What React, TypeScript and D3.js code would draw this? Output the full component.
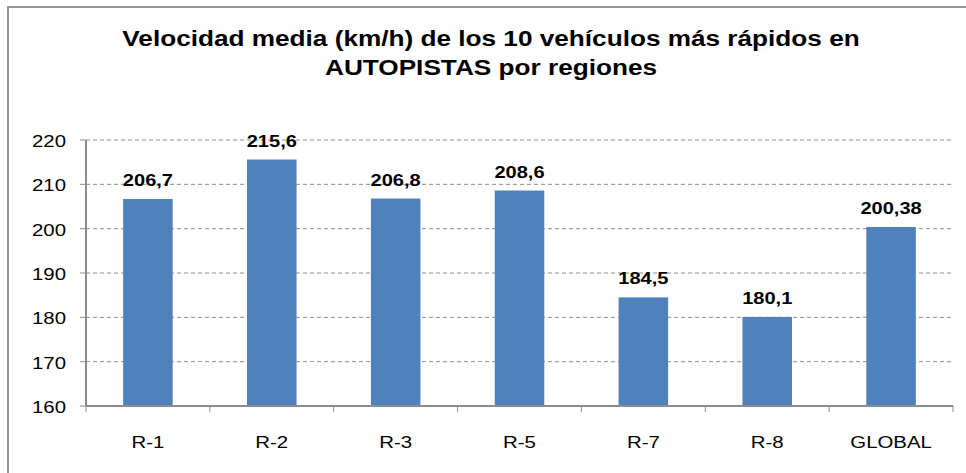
import React, { useEffect, useRef } from "react";
import * as d3 from "d3";

const regiones = ["R-1", "R-2", "R-3", "R-5", "R-7", "R-8", "GLOBAL"];
const velocidades = [206.7, 215.6, 206.8, 208.6, 184.5, 180.1, 200.38];
const etiquetas = ["206,7", "215,6", "206,8", "208,6", "184,5", "180,1", "200,38"];
const yTicks = [160, 170, 180, 190, 200, 210, 220];
const titulo = [
  "Velocidad media (km/h) de los 10 vehículos más rápidos en",
  "AUTOPISTAS por regiones",
];

const W = 966;
const H = 473;

export default function App() {
  const ref = useRef<SVGSVGElement>(null);

  useEffect(() => {
    const svg = d3.select(ref.current);
    svg.selectAll("*").remove();
    const font = "'Liberation Sans', Arial, sans-serif";

    // marco del grafico
    svg.append("rect")
      .attr("x", 8).attr("y", 7)
      .attr("width", W + 20).attr("height", H + 20)
      .attr("fill", "white")
      .attr("stroke", "#999999")
      .attr("stroke-width", 2);

    // titulo (la fuente original es algo mas ancha)
    svg.append("g").selectAll("text")
      .data(titulo)
      .join("text")
      .attr("transform", (d, i) => `translate(491,${46 + i * 29}) scale(1.19,1)`)
      .attr("text-anchor", "middle")
      .attr("font-family", font)
      .attr("font-weight", "bold")
      .attr("font-size", 22)
      .text(d => d);

    const x = d3.scaleBand().domain(regiones).range([86, 953]).paddingInner(0.6).paddingOuter(0.3);
    const y = d3.scaleLinear().domain([160, 220]).range([406, 140]);

    // rejilla
    svg.append("g").selectAll("line")
      .data(yTicks.filter(t => t > 160))
      .join("line")
      .attr("x1", 86).attr("x2", 953)
      .attr("y1", d => y(d)).attr("y2", d => y(d))
      .attr("stroke", "#8c8c8c")
      .attr("stroke-width", 1)
      .attr("stroke-dasharray", "4,3");

    svg.append("g").selectAll("rect")
      .data(velocidades)
      .join("rect")
      .attr("x", (d, i) => x(regiones[i])!)
      .attr("y", d => y(d))
      .attr("width", x.bandwidth())
      .attr("height", d => y(160) - y(d))
      .attr("fill", "#4f81bd");

    svg.append("g").selectAll("text")
      .data(velocidades)
      .join("text")
      .attr("transform", (d, i) =>
        `translate(${x(regiones[i])! + x.bandwidth() / 2},${y(d) - 13}) scale(1.18,1)`)
      .attr("text-anchor", "middle")
      .attr("font-family", font)
      .attr("font-weight", "bold")
      .attr("font-size", 17)
      .text((d, i) => etiquetas[i]);

    // eje y
    const axisColor = "#8c8c8c";
    svg.append("line")
      .attr("x1", 86).attr("x2", 86).attr("y1", 140).attr("y2", 406)
      .attr("stroke", axisColor).attr("stroke-width", 2);
    svg.append("g").selectAll("line")
      .data(yTicks)
      .join("line")
      .attr("x1", 80).attr("x2", 86)
      .attr("y1", d => y(d)).attr("y2", d => y(d))
      .attr("stroke", axisColor).attr("stroke-width", 1);
    svg.append("g").selectAll("text")
      .data(yTicks)
      .join("text")
      .attr("transform", d => `translate(66,${y(d) + 7}) scale(1.2,1)`)
      .attr("text-anchor", "end")
      .attr("font-family", font)
      .attr("font-size", 17)
      .text(d => d);

    // eje x
    svg.append("line")
      .attr("x1", 86).attr("x2", 953).attr("y1", 406).attr("y2", 406)
      .attr("stroke", axisColor).attr("stroke-width", 2);
    svg.append("g").selectAll("line")
      .data(d3.range(regiones.length + 1))
      .join("line")
      .attr("x1", d => 86 + d * x.step())
      .attr("x2", d => 86 + d * x.step())
      .attr("y1", 406).attr("y2", 412)
      .attr("stroke", axisColor).attr("stroke-width", 1);
    svg.append("g").selectAll("text")
      .data(regiones)
      .join("text")
      .attr("transform", d => `translate(${x(d)! + x.bandwidth() / 2},448) scale(1.2,1)`)
      .attr("text-anchor", "middle")
      .attr("font-family", font)
      .attr("font-size", 17)
      .text(d => d);
  }, []);

  return (
    <svg ref={ref} width={W} height={H} style={{ position: "absolute", left: 0, top: 0, display: "block" }} />
  );
}
